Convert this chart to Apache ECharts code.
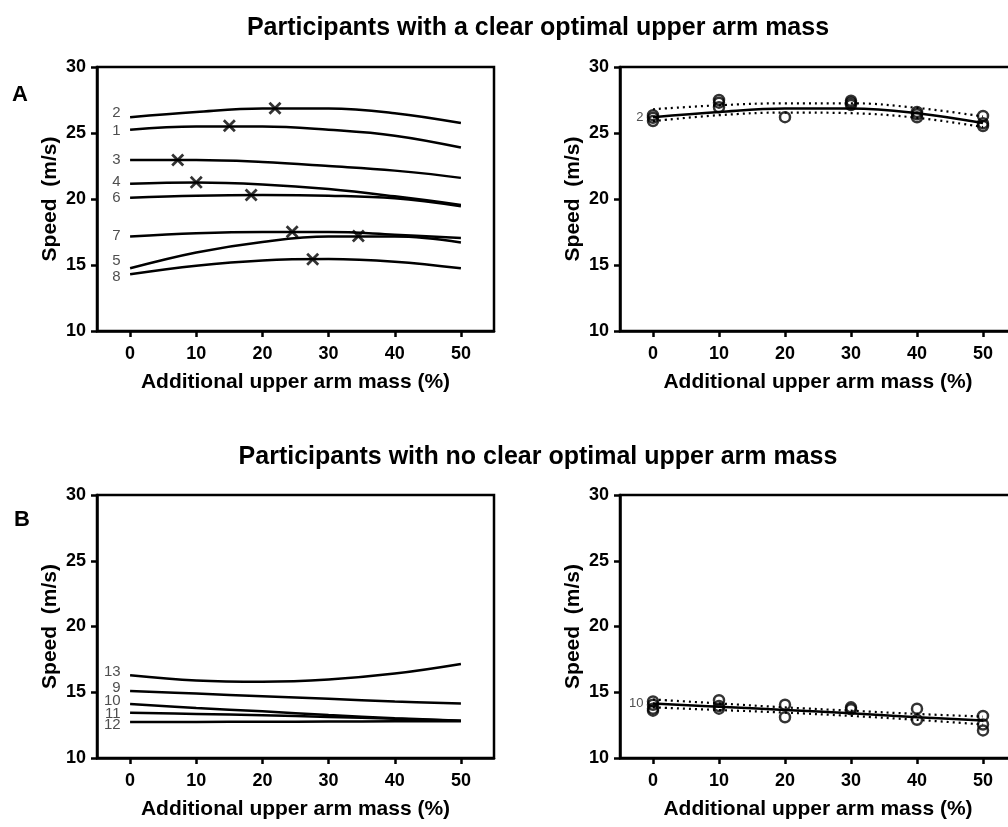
<!DOCTYPE html>
<html>
<head>
<meta charset="utf-8">
<script src="https://cdn.jsdelivr.net/npm/echarts@6/dist/echarts.min.js"></script>
<style>
  html, body { margin: 0; padding: 0; background: #fff; overflow: hidden; }
  #chart { width: 1024px; height: 827px; }
</style>
</head>
<body>
<div id="chart"></div>
<script>
// Additional upper arm mass levels (%) at which speeds are given
const massLevels = [0, 10, 20, 30, 40, 50];
const xTickValues = [0, 10, 20, 30, 40, 50];

// Panel A (left): fitted speed curves (m/s) for participants with a clear optimum
const fitP1 = [25.25, 25.5, 25.5, 25.25, 24.8, 23.9];
const fitP2 = [26.2, 26.6, 26.85, 26.85, 26.5, 25.75];
const fitP3 = [22.95, 22.95, 22.8, 22.5, 22.15, 21.6];
const fitP4 = [21.15, 21.25, 21.1, 20.75, 20.2, 19.55];
const fitP5 = [14.75, 15.95, 16.75, 17.15, 17.15, 16.7];
const fitP6 = [20.1, 20.25, 20.3, 20.25, 20.05, 19.45];
const fitP7 = [17.15, 17.4, 17.5, 17.5, 17.3, 17.05];
const fitP8 = [14.3, 14.95, 15.35, 15.45, 15.25, 14.75];

// Optimal upper arm mass (%) and the speed reached there, participants 1-8
const optimumMass = [15.0, 21.9, 7.2, 10.0, 34.5, 18.3, 24.5, 27.6];
const optimumSpeed = [25.55, 26.87, 22.95, 21.26, 17.2, 20.3, 17.52, 15.43];

// Panel A (right): participant 2 trials, fit and 95% band
const trialMassP2 = [0, 0, 0, 10, 10, 10, 20, 30, 30, 30, 40, 40, 40, 50, 50, 50];
const trialSpeedP2 = [26.35, 26.15, 25.9, 27.5, 27.3, 26.95, 26.2, 27.44, 27.3, 27.12, 26.6, 26.42, 26.19, 26.29, 25.73, 25.53];
const bandUpperP2 = [26.8, 27.1, 27.25, 27.25, 26.9, 26.25];
const bandLowerP2 = [25.9, 26.35, 26.55, 26.5, 26.15, 25.45];

// Panel B (left): fitted speed curves for participants without a clear optimum
const fitP9 = [15.1, 14.9, 14.7, 14.5, 14.3, 14.15];
const fitP10 = [14.1, 13.8, 13.55, 13.27, 13.03, 12.83];
const fitP11 = [13.45, 13.35, 13.25, 13.12, 12.98, 12.83];
const fitP12 = [12.73, 12.74, 12.76, 12.77, 12.79, 12.8];
const fitP13 = [16.3, 15.9, 15.8, 15.97, 16.42, 17.15];

// Panel B (right): participant 10 trials, fit and 95% band
const trialMassP10 = [0, 0, 0, 0, 10, 10, 10, 20, 20, 30, 30, 40, 40, 50, 50, 50];
const trialSpeedP10 = [14.3, 14.05, 13.75, 13.6, 14.4, 13.95, 13.75, 14.05, 13.1, 13.85, 13.7, 13.75, 12.9, 13.2, 12.55, 12.1];
const fitP10Detail = [14.15, 13.9, 13.65, 13.4, 13.1, 12.85];
const bandUpperP10 = [14.45, 14.15, 13.85, 13.6, 13.35, 13.15];
const bandLowerP10 = [13.85, 13.65, 13.45, 13.2, 12.9, 12.55];

// ---- drawing ----
const FONT = '"Liberation Sans", Arial, Helvetica, sans-serif';
const INK = '#000';
const LINE_W = 2.5;

const pairs = (ys) => massLevels.map((x, i) => [x, ys[i]]);

// the right-hand plots run past the page edge, so the canvas is a little wider than the page
const grids = [
  { left: 97, top: 67, width: 397, height: 264 },
  { left: 620, top: 67, width: 396, height: 264 },
  { left: 97, top: 495, width: 397, height: 263 },
  { left: 620, top: 495, width: 396, height: 263 }
].map(g => Object.assign(g, { show: true, borderColor: INK, borderWidth: LINE_W, backgroundColor: 'transparent', containLabel: false }));

const xAxes = grids.map((g, i) => ({
  type: 'value', gridIndex: i, min: -5, max: 55,
  axisLine: { show: true, onZero: false, lineStyle: { color: INK, width: LINE_W } },
  axisTick: { show: true, customValues: xTickValues, length: 6, lineStyle: { color: INK, width: LINE_W } },
  axisLabel: { customValues: xTickValues, color: INK, fontFamily: FONT, fontWeight: 'bold', fontSize: 18, margin: 14 },
  splitLine: { show: false },
  name: 'Additional upper arm mass (%)', nameLocation: 'middle', nameGap: 41,
  nameTextStyle: { color: INK, fontFamily: FONT, fontWeight: 'bold', fontSize: 21 }
}));

const yAxes = grids.map((g, i) => ({
  type: 'value', gridIndex: i, min: 10, max: 30, interval: 5,
  axisLine: { show: true, onZero: false, lineStyle: { color: INK, width: LINE_W } },
  axisTick: { show: true, length: 6, lineStyle: { color: INK, width: LINE_W } },
  axisLabel: { color: INK, fontFamily: FONT, fontWeight: 'bold', fontSize: 18, margin: 11 },
  splitLine: { show: false },
  name: 'Speed  (m/s)', nameLocation: 'middle', nameGap: 36,
  nameTextStyle: { color: INK, fontFamily: FONT, fontWeight: 'bold', fontSize: 21 }
}));

function curve(idx, ys, extra) {
  return Object.assign({
    type: 'line', xAxisIndex: idx, yAxisIndex: idx,
    data: pairs(ys), smooth: 0.4, showSymbol: false, silent: true,
    lineStyle: { color: INK, width: LINE_W }, z: 3
  }, extra || {});
}

function band(idx, ys) {
  return curve(idx, ys, { lineStyle: { color: INK, width: 2.2, type: [2, 4] } });
}

// participant id labels at the start of each curve (vertical nudge in px)
function startLabels(idx, ids, starts, nudges, size) {
  return {
    type: 'scatter', xAxisIndex: idx, yAxisIndex: idx, silent: true,
    symbolSize: 1, itemStyle: { color: 'transparent' },
    data: ids.map((id, i) => ({
      value: [0, starts[i]], name: id,
      label: { offset: [0, nudges[i] || 0] }
    })),
    label: {
      show: true, position: 'left', distance: 9,
      formatter: p => p.name, color: '#222', fontFamily: FONT, fontSize: size || 15
    }
  };
}

function trials(idx, xs, ys) {
  return {
    type: 'scatter', xAxisIndex: idx, yAxisIndex: idx, silent: true,
    symbol: 'circle', symbolSize: 10,
    itemStyle: { color: 'transparent', borderColor: INK, borderWidth: LINE_W },
    data: xs.map((x, i) => [x, ys[i]]), z: 5
  };
}

const crossPath = 'path://M1.5,0 L5,3.5 L8.5,0 L10,1.5 L6.5,5 L10,8.5 L8.5,10 L5,6.5 L1.5,10 L0,8.5 L3.5,5 L0,1.5 Z';

const panelACurves = [fitP1, fitP2, fitP3, fitP4, fitP5, fitP6, fitP7, fitP8];
const panelAIds = ['1', '2', '3', '4', '5', '6', '7', '8'];
const panelANudge = [1, -4, 0, -2, -7, 0, -1, 3];

const panelBCurves = [fitP9, fitP10, fitP11, fitP12, fitP13];
const panelBIds = ['9', '10', '11', '12', '13'];
const panelBNudge = [-3, -3, 1, 3, -3];

const series = [];
panelACurves.forEach(c => series.push(curve(0, c)));
series.push(startLabels(0, panelAIds, panelACurves.map(c => c[0]), panelANudge));
series.push({
  type: 'scatter', xAxisIndex: 0, yAxisIndex: 0, silent: true,
  symbol: crossPath, symbolSize: 13, itemStyle: { color: INK },
  data: optimumMass.map((m, i) => [m, optimumSpeed[i]]), z: 6
});

series.push(curve(1, fitP2));
series.push(band(1, bandUpperP2));
series.push(band(1, bandLowerP2));
series.push(trials(1, trialMassP2, trialSpeedP2));
series.push(startLabels(1, ['2'], [fitP2[0]], [0], 13));

panelBCurves.forEach(c => series.push(curve(2, c)));
series.push(startLabels(2, panelBIds, panelBCurves.map(c => c[0]), panelBNudge));

series.push(curve(3, fitP10Detail));
series.push(band(3, bandUpperP10));
series.push(band(3, bandLowerP10));
series.push(trials(3, trialMassP10, trialSpeedP10));
series.push(startLabels(3, ['10'], [fitP10Detail[0]], [0], 13));

const titleStyle = { color: INK, fontFamily: FONT, fontWeight: 'bold', fontSize: 25 };
const panelLetter = { color: INK, fontFamily: FONT, fontWeight: 'bold', fontSize: 22 };

const chart = echarts.init(document.getElementById('chart'), null, { renderer: 'canvas' });
chart.setOption({
  animation: false,
  backgroundColor: '#fff',
  title: [
    { text: 'Participants with a clear optimal upper arm mass', left: 533, top: 11, textAlign: 'center', textStyle: titleStyle },
    { text: 'Participants with no clear optimal upper arm mass', left: 533, top: 440, textAlign: 'center', textStyle: titleStyle },
    { text: 'A', left: 7, top: 79, textStyle: panelLetter },
    { text: 'B', left: 9, top: 504, textStyle: panelLetter }
  ],
  grid: grids,
  xAxis: xAxes,
  yAxis: yAxes,
  series: series
});
</script>
</body>
</html>
